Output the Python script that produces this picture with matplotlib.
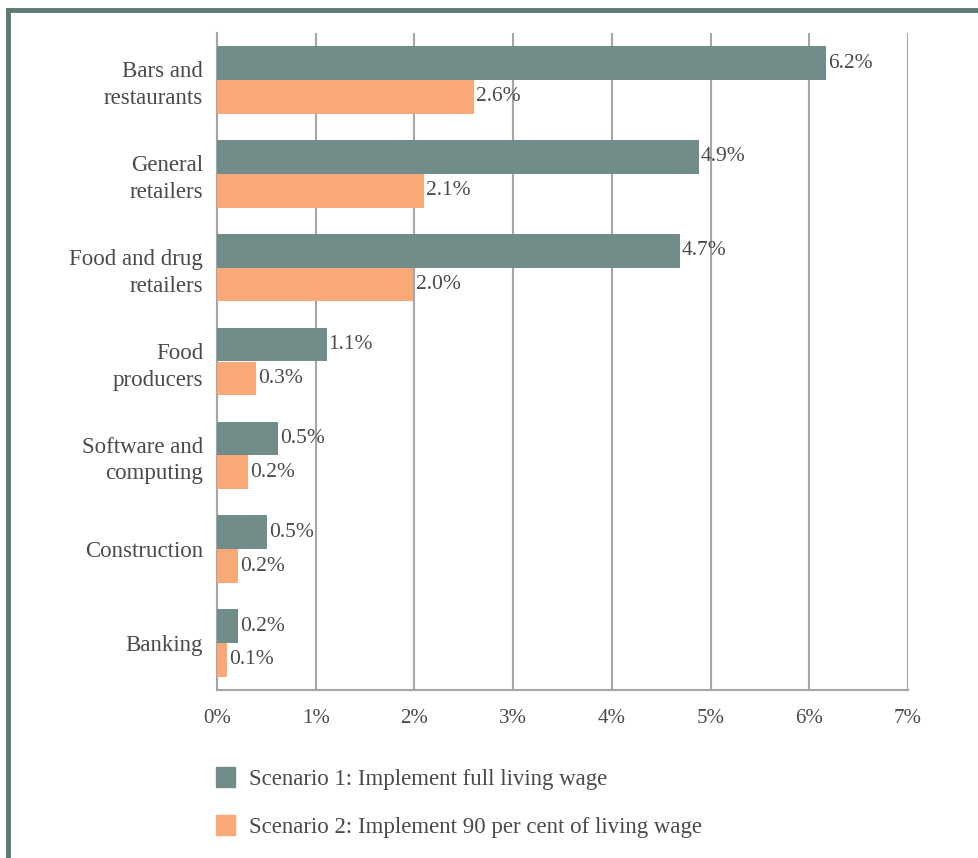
import matplotlib
matplotlib.use("Agg")
import matplotlib.pyplot as plt
from matplotlib.lines import Line2D
from matplotlib.patches import Patch
import numpy as np

categories = [
    "Bars and\nrestaurants",
    "General\nretailers",
    "Food and drug\nretailers",
    "Food\nproducers",
    "Software and\ncomputing",
    "Construction",
    "Banking",
]
scenario1 = [6.17, 4.88, 4.69, 1.11, 0.62, 0.51, 0.21]
scenario2 = [2.6, 2.1, 1.99, 0.4, 0.31, 0.21, 0.1]
labels1 = ["6.2%", "4.9%", "4.7%", "1.1%", "0.5%", "0.5%", "0.2%"]
labels2 = ["2.6%", "2.1%", "2.0%", "0.3%", "0.2%", "0.2%", "0.1%"]
series_names = [
    "Scenario 1: Implement full living wage",
    "Scenario 2: Implement 90 per cent of living wage",
]
xticks = [0, 1, 2, 3, 4, 5, 6, 7]

C1 = "#728c89"
C2 = "#f9a877"
TXT = "#4a4a4a"
GRID = "#a6a6a6"
BORDER = "#5d7a75"

plt.rcParams["font.family"] = ["Liberation Serif", "DejaVu Serif"]

W, H = 979, 858
fig = plt.figure(figsize=(W / 100, H / 100), dpi=100)
ax = fig.add_axes([217 / W, 1 - 690 / H, (908 - 217) / W, (690 - 33) / H])

y = np.arange(len(categories))
bh = 0.36
ax.barh(y - bh / 2, scenario1, height=bh, color=C1, zorder=3)
ax.barh(y + bh / 2, scenario2, height=bh, color=C2, zorder=3)

for yi, v, t in zip(y, scenario1, labels1):
    ax.annotate(t, (v, yi - bh / 2), xytext=(1.5, 0), textcoords="offset points",
                va="center", ha="left", fontsize=15.5, color=TXT)
for yi, v, t in zip(y, scenario2, labels2):
    ax.annotate(t, (v, yi + bh / 2), xytext=(1.5, 0), textcoords="offset points",
                va="center", ha="left", fontsize=15.5, color=TXT)

ax.set_xlim(0, 7)
ax.set_ylim(len(categories) - 0.5, -0.5)
ax.set_xticks(xticks)
ax.set_xticklabels([f"{t}%" for t in xticks], fontsize=15, color=TXT)
ax.set_yticks(y)
ax.set_yticklabels(categories, fontsize=16.5, color=TXT, linespacing=1.35)
ax.tick_params(axis="y", length=0, pad=10)
ax.tick_params(axis="x", length=0, pad=14)

ax.grid(axis="x", color=GRID, linewidth=1.5, zorder=0)
for side in ["top", "right"]:
    ax.spines[side].set_visible(False)
for side in ["left", "bottom"]:
    ax.spines[side].set_color(GRID)
    ax.spines[side].set_linewidth(1.5)

handles = [Patch(color=C1), Patch(color=C2)]
fig.legend(handles, series_names, loc="upper left",
           bbox_to_anchor=(195 / W, 1 - 746 / H), frameon=False,
           fontsize=16.5, labelcolor=TXT, handlelength=0.85, handleheight=1.0,
           handletextpad=0.6, labelspacing=1.1)

# frame lines
fig.add_artist(Line2D([8 / W, 1], [1 - 10 / H, 1 - 10 / H], color=BORDER, lw=3.5,
                      transform=fig.transFigure))
fig.add_artist(Line2D([8 / W, 8 / W], [0, 1 - 10 / H], color=BORDER, lw=3.5,
                      transform=fig.transFigure))

fig.savefig("out.png", dpi=100)
